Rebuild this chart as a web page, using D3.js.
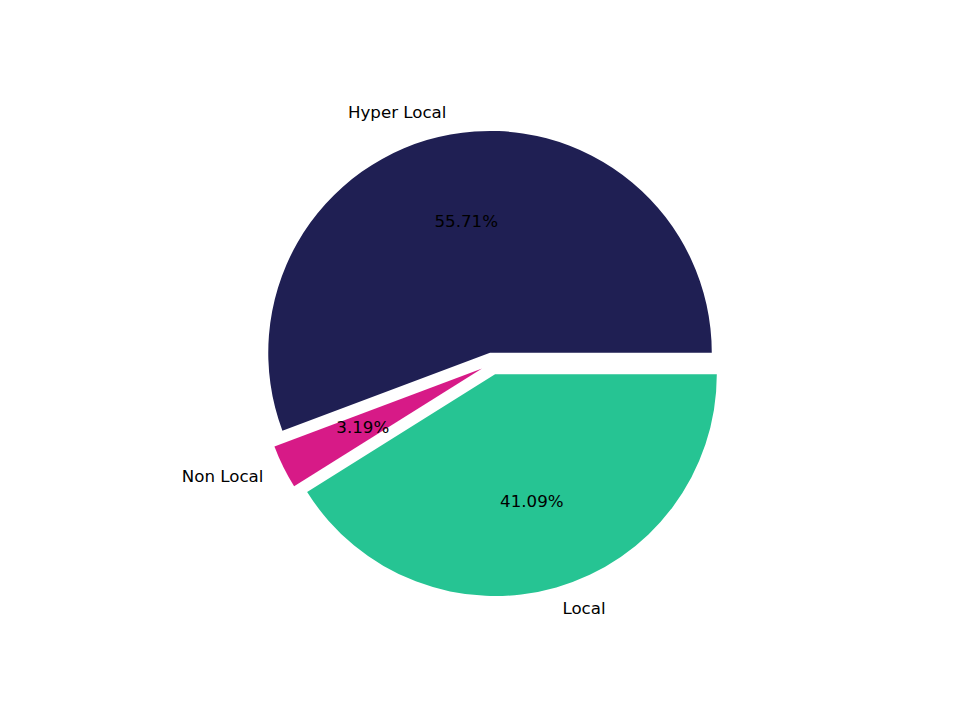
<!DOCTYPE html>
<html>
<head>
<meta charset="utf-8">
<script src="https://cdn.jsdelivr.net/npm/d3@7/dist/d3.min.js"></script>
<style>
  body { margin: 0; background: #fff; }
  svg { display: block; }
  text { font-family: "DejaVu Sans", sans-serif; font-size: 16.67px; fill: #000; }
</style>
</head>
<body>
<svg id="chart" width="960" height="720"></svg>
<script>
// pie data (share of total, in percent)
const categories = ['Hyper Local', 'Non Local', 'Local'];
const shares = [55.71, 3.19, 41.09];
const colors = ['#1f1f53', '#d71a87', '#26c493'];
const explode = [0.05, 0.05, 0.05];

const width = 960, height = 720;
// matplotlib-like axes box: pie radius 1 inside limits of +-1.25
const axTop = height * (1 - 0.88), axBottom = height * (1 - 0.11);
const cx = width * (0.125 + 0.9) / 2;
const cy = (axTop + axBottom) / 2;
const r = (axBottom - axTop) / 2.5;

const rows = categories.map((c, i) => ({ category: c, value: shares[i], color: colors[i], explode: explode[i] }));

// start at 3 o'clock and run counter-clockwise
const pie = d3.pie()
    .sort(null)
    .value(d => d.value)
    .startAngle(Math.PI / 2)
    .endAngle(Math.PI / 2 - 2 * Math.PI);

const arc = d3.arc().innerRadius(0).outerRadius(r);

const svg = d3.select('#chart');
const g = svg.append('g').attr('transform', `translate(${cx}, ${cy})`);

const slices = g.selectAll('.slice')
    .data(pie(rows))
    .enter()
    .append('g')
    .attr('class', 'slice')
    .attr('transform', d => {
        const a = (d.startAngle + d.endAngle) / 2;
        const off = d.data.explode * r;
        return `translate(${Math.sin(a) * off}, ${-Math.cos(a) * off})`;
    });

slices.append('path')
    .attr('d', d => arc({ startAngle: Math.min(d.startAngle, d.endAngle), endAngle: Math.max(d.startAngle, d.endAngle) }))
    .attr('fill', d => d.data.color);

// category labels at 1.1 r
slices.append('text')
    .attr('x', d => Math.sin((d.startAngle + d.endAngle) / 2) * r * 1.1)
    .attr('y', d => -Math.cos((d.startAngle + d.endAngle) / 2) * r * 1.1)
    .attr('dy', '0.3em')
    .attr('text-anchor', d => Math.sin((d.startAngle + d.endAngle) / 2) < 0 ? 'end' : 'start')
    .text(d => d.data.category);

// percentage labels at 0.6 r
slices.append('text')
    .attr('x', d => Math.sin((d.startAngle + d.endAngle) / 2) * r * 0.6)
    .attr('y', d => -Math.cos((d.startAngle + d.endAngle) / 2) * r * 0.6)
    .attr('dy', '0.3em')
    .attr('text-anchor', 'middle')
    .text(d => d.data.value.toFixed(2) + '%');
</script>
</body>
</html>
